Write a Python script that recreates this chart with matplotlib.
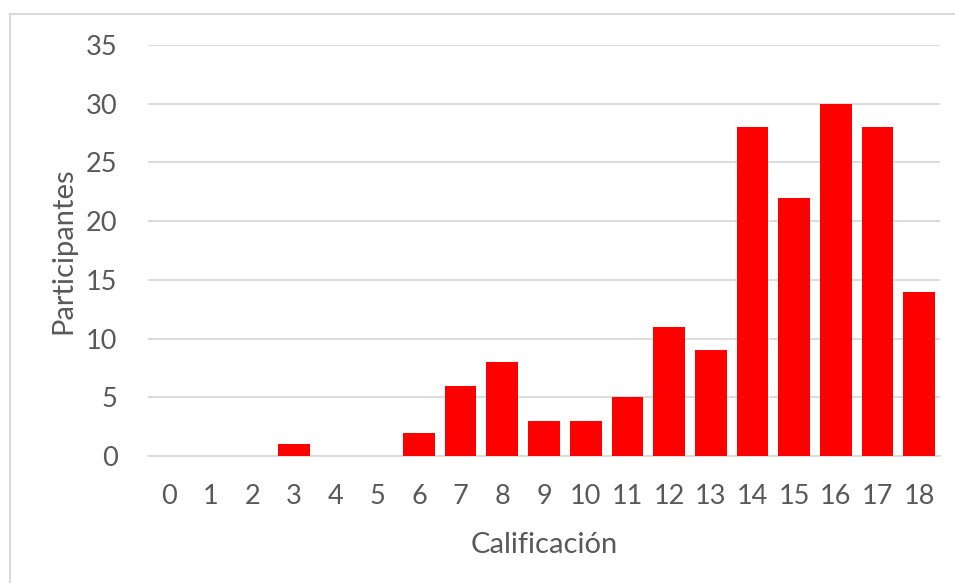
import numpy as np
import matplotlib.pyplot as plt
from matplotlib.lines import Line2D

# Datos
calificaciones = [str(i) for i in range(19)]
participantes = [0, 0, 0, 1, 0, 0, 2, 6, 8, 3, 3, 5, 11, 9, 28, 22, 30, 28, 14]
yticks = [0, 5, 10, 15, 20, 25, 30, 35]

plt.rcParams['font.family'] = ['Lato', 'DejaVu Sans']
gray = '#595959'
grid = '#d9d9d9'

fig = plt.figure(figsize=(9.55, 5.83), dpi=100)
ax = fig.add_axes([148 / 955, 1 - 456 / 583, 792 / 955, 411 / 583])

x = np.arange(len(calificaciones))
ax.bar(x, participantes, width=0.76, color='#ff0000', zorder=3)

ax.set_xlim(-0.5, len(calificaciones) - 0.5)
ax.set_ylim(0, 35)
ax.set_yticks(yticks)
ax.set_xticks(x)
ax.set_xticklabels(calificaciones)
ax.grid(axis='y', color=grid, linewidth=1.3, zorder=0)
for s in ['top', 'right', 'left']:
    ax.spines[s].set_visible(False)
ax.spines['bottom'].set_color(grid)
ax.spines['bottom'].set_linewidth(1.3)
ax.tick_params(length=0, labelsize=19.5, colors=gray)
ax.tick_params(axis='x', pad=20)
ax.tick_params(axis='y', pad=22)
ax.set_xlabel('Calificación', fontsize=21, color=gray, labelpad=17)
ax.set_ylabel('Participantes', fontsize=21, color=gray, labelpad=7)

# marco del gráfico (solo izquierda y arriba visibles)
fig.add_artist(Line2D([10 / 955, 10 / 955], [0, 1 - 14 / 583], transform=fig.transFigure,
                      color=grid, linewidth=1.5))
fig.add_artist(Line2D([10 / 955, 1], [1 - 14 / 583, 1 - 14 / 583], transform=fig.transFigure,
                      color=grid, linewidth=1.5))

fig.savefig('out.png', dpi=100)
